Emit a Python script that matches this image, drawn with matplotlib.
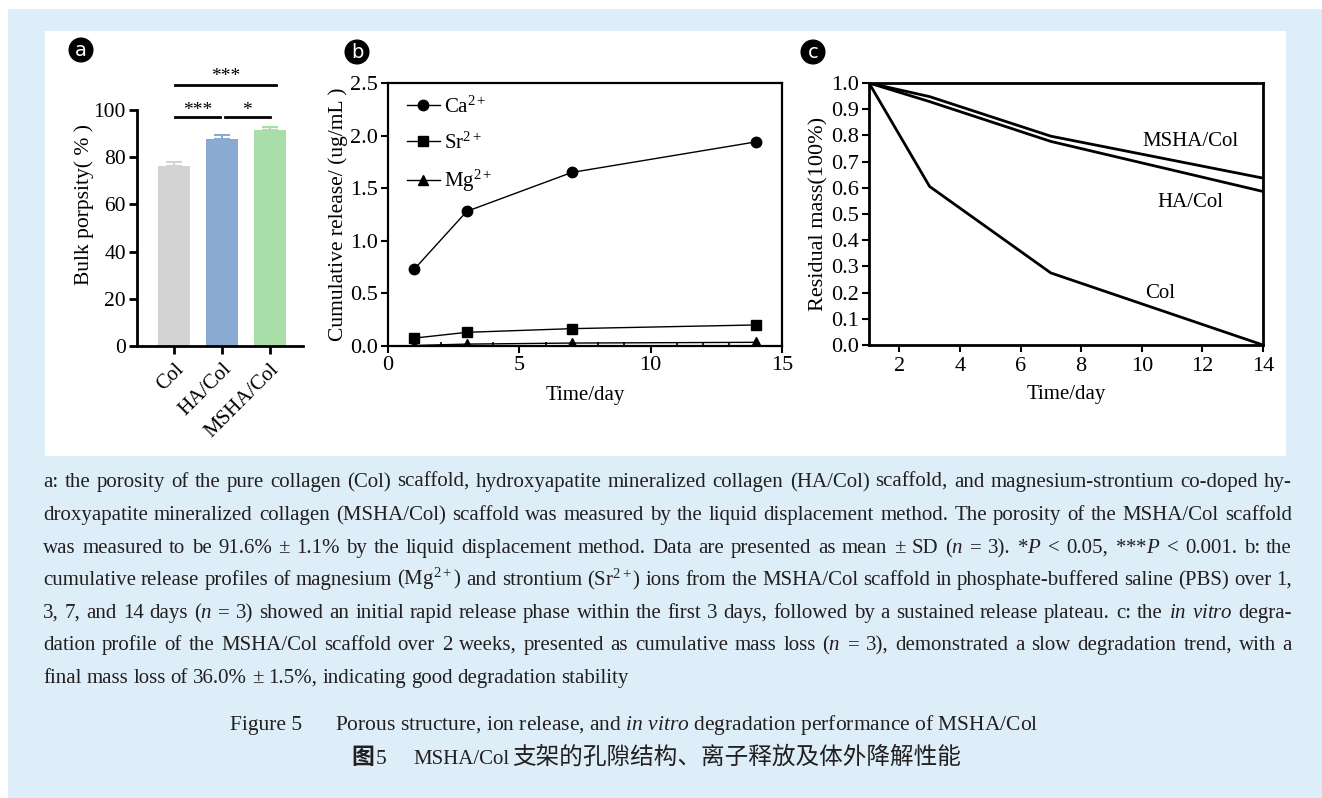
import matplotlib
matplotlib.use("Agg")
import matplotlib.pyplot as plt
from matplotlib.patches import Rectangle

plt.rcParams['font.family'] = ['Liberation Serif', 'Noto Sans CJK SC']
plt.rcParams['mathtext.fontset'] = 'custom'
plt.rcParams['mathtext.rm'] = 'Liberation Serif'
plt.rcParams['mathtext.it'] = 'Liberation Serif:italic'
plt.rcParams['mathtext.bf'] = 'Liberation Serif:bold'

# ---- data ----
groups = ["Col", "HA/Col", "MSHA/Col"]
porosity = [76.3, 87.6, 91.6]
porosity_sd = [1.9, 1.9, 1.1]
bar_colors = ["#d3d3d3", "#8aaad2", "#a9dea9"]

days_b = [1, 3, 7, 14]
ca_release = [0.73, 1.28, 1.65, 1.94]
sr_release = [0.075, 0.13, 0.165, 0.20]
mg_release = [0.005, 0.018, 0.028, 0.035]

days_c = [1, 3, 7, 14]
mass_msha = [1.0, 0.948, 0.797, 0.637]
mass_ha = [1.0, 0.929, 0.777, 0.586]
mass_col = [1.0, 0.605, 0.275, 0.0]

caption_lines = [
    "a: the porosity of the pure collagen (Col) scaffold, hydroxyapatite mineralized collagen (HA/Col) scaffold, and magnesium-strontium co-doped hy-",
    "droxyapatite mineralized collagen (MSHA/Col) scaffold was measured by the liquid displacement method. The porosity of the MSHA/Col scaffold",
    "was measured to be 91.6% ± 1.1% by the liquid displacement method. Data are presented as mean ± SD ($\\mathit{n}$ = 3). *$\\mathit{P}$ < 0.05, ***$\\mathit{P}$ < 0.001. b: the",
    "cumulative release profiles of magnesium (Mg$^{2+}$) and strontium (Sr$^{2+}$) ions from the MSHA/Col scaffold in phosphate-buffered saline (PBS) over 1,",
    "3, 7, and 14 days ($\\mathit{n}$ = 3) showed an initial rapid release phase within the first 3 days, followed by a sustained release plateau. c: the $\\mathit{in}$ $\\mathit{vitro}$ degra-",
    "dation profile of the MSHA/Col scaffold over 2 weeks, presented as cumulative mass loss ($\\mathit{n}$ = 3), demonstrated a slow degradation trend, with a",
    "final mass loss of 36.0% ± 1.5%, indicating good degradation stability",
]
title_en = "Porous structure, ion release, and $\\mathit{in\\ vitro}$ degradation performance of MSHA/Col"
title_zh = "支架的孔隙结构、离子释放及体外降解性能"

W, H = 1322, 798
fig = plt.figure(figsize=(W / 100, H / 100), dpi=100)
fig.patch.set_facecolor("white")


def px(l, t, r, b):
    return [l / W, 1 - b / H, (r - l) / W, (b - t) / H]


# background panels
fig.patches.append(Rectangle((8 / W, 0), 1, 1 - 9 / H, transform=fig.transFigure,
                             facecolor="#ddeef9", edgecolor="none", zorder=-2))
fig.patches.append(Rectangle((45 / W, 1 - 456 / H), (1286 - 45) / W, (456 - 31) / H,
                             transform=fig.transFigure, facecolor="white",
                             edgecolor="none", zorder=-1))


def panel_label(x, y, s):
    fig.text(x / W, 1 - y / H, s, color="white", fontsize=14, family="DejaVu Sans",
             ha="center", va="center",
             bbox=dict(boxstyle="circle,pad=0.12", fc="black", ec="black"))


# ---- panel a ----
ax = fig.add_axes(px(137, 63, 303, 346))
xs = range(len(groups))
ax.bar(xs, porosity, width=0.67, color=bar_colors)
for i in xs:
    ax.errorbar(i, porosity[i], yerr=[[0], [porosity_sd[i]]], fmt="none",
                ecolor=bar_colors[i], elinewidth=1.5, capsize=6, capthick=1.5)
ax.set_xlim(-0.77, 2.69)
ax.set_ylim(0, 120)
ax.spines["top"].set_visible(False)
ax.spines["right"].set_visible(False)
ax.spines["left"].set_bounds(0, 100)
for s in ("left", "bottom"):
    ax.spines[s].set_linewidth(2)
ax.set_yticks([0, 20, 40, 60, 80, 100])
ax.set_xticks(list(xs))
ax.set_xticklabels(groups, rotation=45, ha="right", rotation_mode="anchor")
ax.tick_params(width=2, length=6, labelsize=15.5, pad=2)
ax.tick_params(axis="x", labelsize=15, pad=4)
ax.set_ylabel("Bulk porpsity( % )", fontsize=15.5, labelpad=0)
ax.plot([0.02, 2.12], [110.6, 110.6], color="black", lw=2, clip_on=False)
ax.plot([0.02, 0.96], [97, 97], color="black", lw=2, clip_on=False)
ax.plot([1.06, 2.0], [97, 97], color="black", lw=2, clip_on=False)
ax.text(1.07, 112.4, "***", ha="center", va="baseline", fontsize=14)
ax.text(0.49, 97.8, "***", ha="center", va="baseline", fontsize=14)
ax.text(1.53, 97.8, "*", ha="center", va="baseline", fontsize=14)
panel_label(81, 50, "a")

# ---- panel b ----
ax = fig.add_axes(px(388, 83, 782, 346))
ax.plot(days_b, ca_release, "k-o", lw=1, ms=7.5, label="Ca$^{2+}$")
ax.plot(days_b, sr_release, "k-s", lw=1, ms=7, label="Sr$^{2+}$")
ax.plot(days_b, mg_release, "k-^", lw=1, ms=7, label="Mg$^{2+}$")
ax.set_xlim(0, 15)
ax.set_ylim(0, 2.5)
ax.set_xticks([0, 5, 10, 15])
ax.set_xticks(range(0, 16), minor=True)
ax.set_yticks([0, 0.5, 1.0, 1.5, 2.0, 2.5])
ax.set_yticklabels(["0.0", "0.5", "1.0", "1.5", "2.0", "2.5"])
for s in ax.spines.values():
    s.set_linewidth(1.6)
ax.tick_params(which="major", direction="out", width=1.5, length=5, labelsize=16,
               top=False, right=False, pad=2)
ax.tick_params(which="minor", axis="x", direction="in", width=1.2, length=3)
ax.tick_params(which="minor", axis="y", left=False)
ax.set_xlabel("Time/day", fontsize=15, labelpad=8)
ax.set_ylabel("Cumulative release/ (ug/mL )", fontsize=15.5, labelpad=2)
ax.legend(loc="upper left", frameon=False, fontsize=15, handlelength=1.6,
          handletextpad=0.2, labelspacing=0.7, bbox_to_anchor=(0.0, 1.02))
panel_label(357, 52, "b")

# ---- panel c ----
ax = fig.add_axes(px(869, 83, 1263, 345))
ax.plot(days_c, mass_msha, "k-", lw=2)
ax.plot(days_c, mass_ha, "k-", lw=2)
ax.plot(days_c, mass_col, "k-", lw=2)
ax.set_xlim(1, 14)
ax.set_ylim(0, 1.0)
ax.set_xticks(range(2, 15, 2))
ax.set_yticks([i / 10 for i in range(11)])
ax.set_yticklabels(["%.1f" % (i / 10) for i in range(11)])
for s in ax.spines.values():
    s.set_linewidth(2)
ax.tick_params(direction="out", width=1.5, length=5, labelsize=16, pad=2)
ax.tick_params(axis="x", pad=4)
ax.set_xlabel("Time/day", fontsize=15, labelpad=6)
ax.set_ylabel("Residual mass(100%)", fontsize=16, labelpad=2)
ax.text(11.6, 0.775, "MSHA/Col", ha="center", va="center", fontsize=15)
ax.text(11.6, 0.542, "HA/Col", ha="center", va="center", fontsize=15)
ax.text(10.6, 0.198, "Col", ha="center", va="center", fontsize=15)
panel_label(813, 52, "c")

# ---- caption (justified word by word) ----
renderer = fig.canvas.get_renderer()
cap_color = "#231f20"
line_y = [482, 515, 548, 580, 613, 645, 678]
x0, x1 = 43, 1292
for k, (line, y) in enumerate(zip(caption_lines, line_y)):
    words = line.split(" ")
    texts = [fig.text(0, 1 - (y + 5) / H, w, fontsize=15, color=cap_color,
                      va="baseline") for w in words]
    widths = [t.get_window_extent(renderer).width for t in texts]
    if k == len(caption_lines) - 1:
        gap = 5
    else:
        gap = (x1 - x0 - sum(widths)) / (len(words) - 1)
    x = x0
    for t, w in zip(texts, widths):
        t.set_x(x / W)
        x += w + gap

base_en = 1 - 730 / H
base_zh = 1 - 764 / H
fig.text(230 / W, base_en, "Figure 5", fontsize=15.5, color=cap_color, va="baseline")
fig.text(335 / W, base_en, title_en, fontsize=15.5, color=cap_color, va="baseline")
fig.text(351 / W, base_zh, "图", fontsize=16.5, color=cap_color, va="baseline",
         weight="bold", family="Noto Sans CJK SC")
fig.text(376 / W, base_zh, "5", fontsize=15.5, color=cap_color, va="baseline")
fig.text(413 / W, base_zh, "MSHA/Col", fontsize=15, color=cap_color, va="baseline")
fig.text(512 / W, base_zh, title_zh, fontsize=17, color=cap_color, va="baseline",
         family="Noto Sans CJK SC")

fig.savefig("out.png", dpi=100)
